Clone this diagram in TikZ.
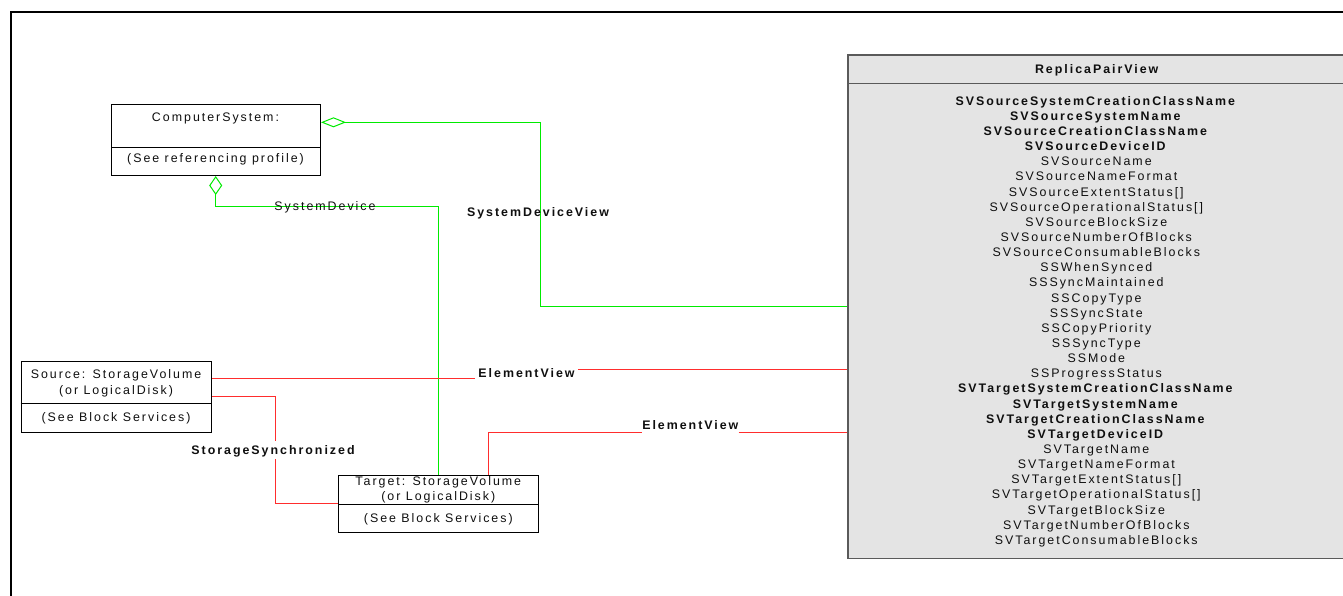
\documentclass[tikz,border=0pt]{standalone}
\usepackage{fontspec}
\setmainfont{Liberation Sans}[LetterSpace=16]
\usetikzlibrary{arrows.meta}
\definecolor{lred}{RGB}{255,45,45}
\definecolor{lgreen}{RGB}{0,235,0}
\definecolor{rpvfill}{RGB}{228,228,228}
\definecolor{rpvline}{RGB}{90,90,90}
\definecolor{txt}{RGB}{15,15,15}
\newcommand\bld[1]{\textbf{#1}}
\begin{document}
\begin{tikzpicture}[x=1pt,y=-1pt,
  every node/.style={font=\fontsize{12.4}{14}\selectfont, inner sep=0pt, text=txt},
  txtnode/.style={text height=9.5pt, text depth=1pt},
  classbox/.style={draw=black, line width=1pt, anchor=north west, inner sep=0pt, fill=white},
  rpvbox/.style={draw=rpvline, line width=1.5pt, fill=rpvfill, anchor=north west, inner sep=0pt},
  redline/.style={draw=lred, line width=1pt},
  greenline/.style={draw=lgreen, line width=1pt},
  lbl/.style={txtnode, font=\fontsize{12.4}{14}\selectfont\bfseries},
  aggtip/.style n args={2}{{Diamond[open, fill=white, length=#1, width=#2]}-}
]
\useasboundingbox (0,0) rectangle (1343,595);
% outer frame
\draw[line width=2.5pt] (11.2,600) -- (11.2,12) -- (1350,12);

% ReplicaPairView
\node[rpvbox, minimum width=500pt, minimum height=503.4pt] (rpv) at (847,54.3) {};
\draw[rpvline, line width=1.5pt] (rpv.west |- 0,83.3) -- (rpv.east |- 0,83.3);
\node[lbl] (rpvtitle) at (1096.7,69) {ReplicaPairView};
\foreach \t [count=\i] in {
  \bld{SVSourceSystemCreationClassName},
  \bld{SVSourceSystemName},
  \bld{SVSourceCreationClassName},
  \bld{SVSourceDeviceID},
  SVSourceName,
  SVSourceNameFormat,
  SVSourceExtentStatus[],
  SVSourceOperationalStatus[],
  SVSourceBlockSize,
  SVSourceNumberOfBlocks,
  SVSourceConsumableBlocks,
  SSWhenSynced,
  SSSyncMaintained,
  SSCopyType,
  SSSyncState,
  SSCopyPriority,
  SSSyncType,
  SSMode,
  SSProgressStatus,
  \bld{SVTargetSystemCreationClassName},
  \bld{SVTargetSystemName},
  \bld{SVTargetCreationClassName},
  \bld{SVTargetDeviceID},
  SVTargetName,
  SVTargetNameFormat,
  SVTargetExtentStatus[],
  SVTargetOperationalStatus[],
  SVTargetBlockSize,
  SVTargetNumberOfBlocks,
  SVTargetConsumableBlocks}
  \node[txtnode] (attr\i) at (1096.3,{101+15.14*(\i-1)}) {\t};

% ComputerSystem
\node[classbox, minimum width=209pt, minimum height=71pt] (cs) at (111,104) {};
\draw[line width=1pt] (cs.west |- 0,147.3) -- (cs.east |- 0,147.3);
\node[txtnode] (cs1) at (215.5,117.5) {ComputerSystem:};
\node[txtnode] (cs2) at (215.5,158.5) {(See referencing profile)};

% Source
\node[classbox, minimum width=190.3pt, minimum height=71pt] (src) at (20.7,361) {};
\draw[line width=1pt] (src.west |- 0,403.3) -- (src.east |- 0,403.3);
\node[txtnode] (src1) at (116,374) {Source: StorageVolume};
\node[txtnode] (src2) at (116,390) {(or LogicalDisk)};
\node[txtnode] (src3) at (116,417.7) {(See Block Services)};

% Target
\node[classbox, minimum width=200pt, minimum height=56.7pt] (tgt) at (338.3,475) {};
\draw[line width=1pt] (tgt.west |- 0,504.3) -- (tgt.east |- 0,504.3);
\node[txtnode] (tgt1) at (438.3,481.7) {Target: StorageVolume};
\node[txtnode] (tgt2) at (438.3,496.7) {(or LogicalDisk)};
\node[txtnode] (tgt3) at (438.3,518.3) {(See Block Services)};

% SystemDeviceView (aggregation)
\draw[greenline, aggtip={25pt}{10pt}] (cs.east |- 0,122.3) -- (540,122.3) |- (rpv.west |- 0,306.5);
\node[lbl] (sdvlbl) at (538,212.7) {SystemDeviceView};

% SystemDevice (aggregation)
\draw[greenline, aggtip={19pt}{13pt}] (cs.south -| 215.7,0) -- (215.7,206.7) -| (tgt.north);
\node[txtnode] (sdlbl) at (325,206.2) {SystemDevice};

% ElementView (source)
\node[lbl] (ev1) at (526.5,373.3) {ElementView};
\draw[redline] (src.east |- 0,378.5) -- ([xshift=-3pt]ev1.west |- 0,378.5);
\draw[redline] ([xshift=3pt]ev1.east |- 0,369.5) -- (rpv.west |- 0,369.5);

% ElementView (target)
\node[lbl] (ev2) at (690.3,425) {ElementView};
\draw[redline] (tgt.north -| 488.3,0) |- (ev2.west |- 0,432.5);
\draw[redline] (ev2.east |- 0,432.5) -- (rpv.west |- 0,432.5);

% StorageSynchronized
\draw[redline] (src.east |- 0,396.7) -| (275,503.3) -- (tgt.west |- 0,503.3);
\node[lbl, fill=white, inner ysep=3.5pt] (sslbl) at (273,450) {StorageSynchronized};
\end{tikzpicture}
\end{document}
